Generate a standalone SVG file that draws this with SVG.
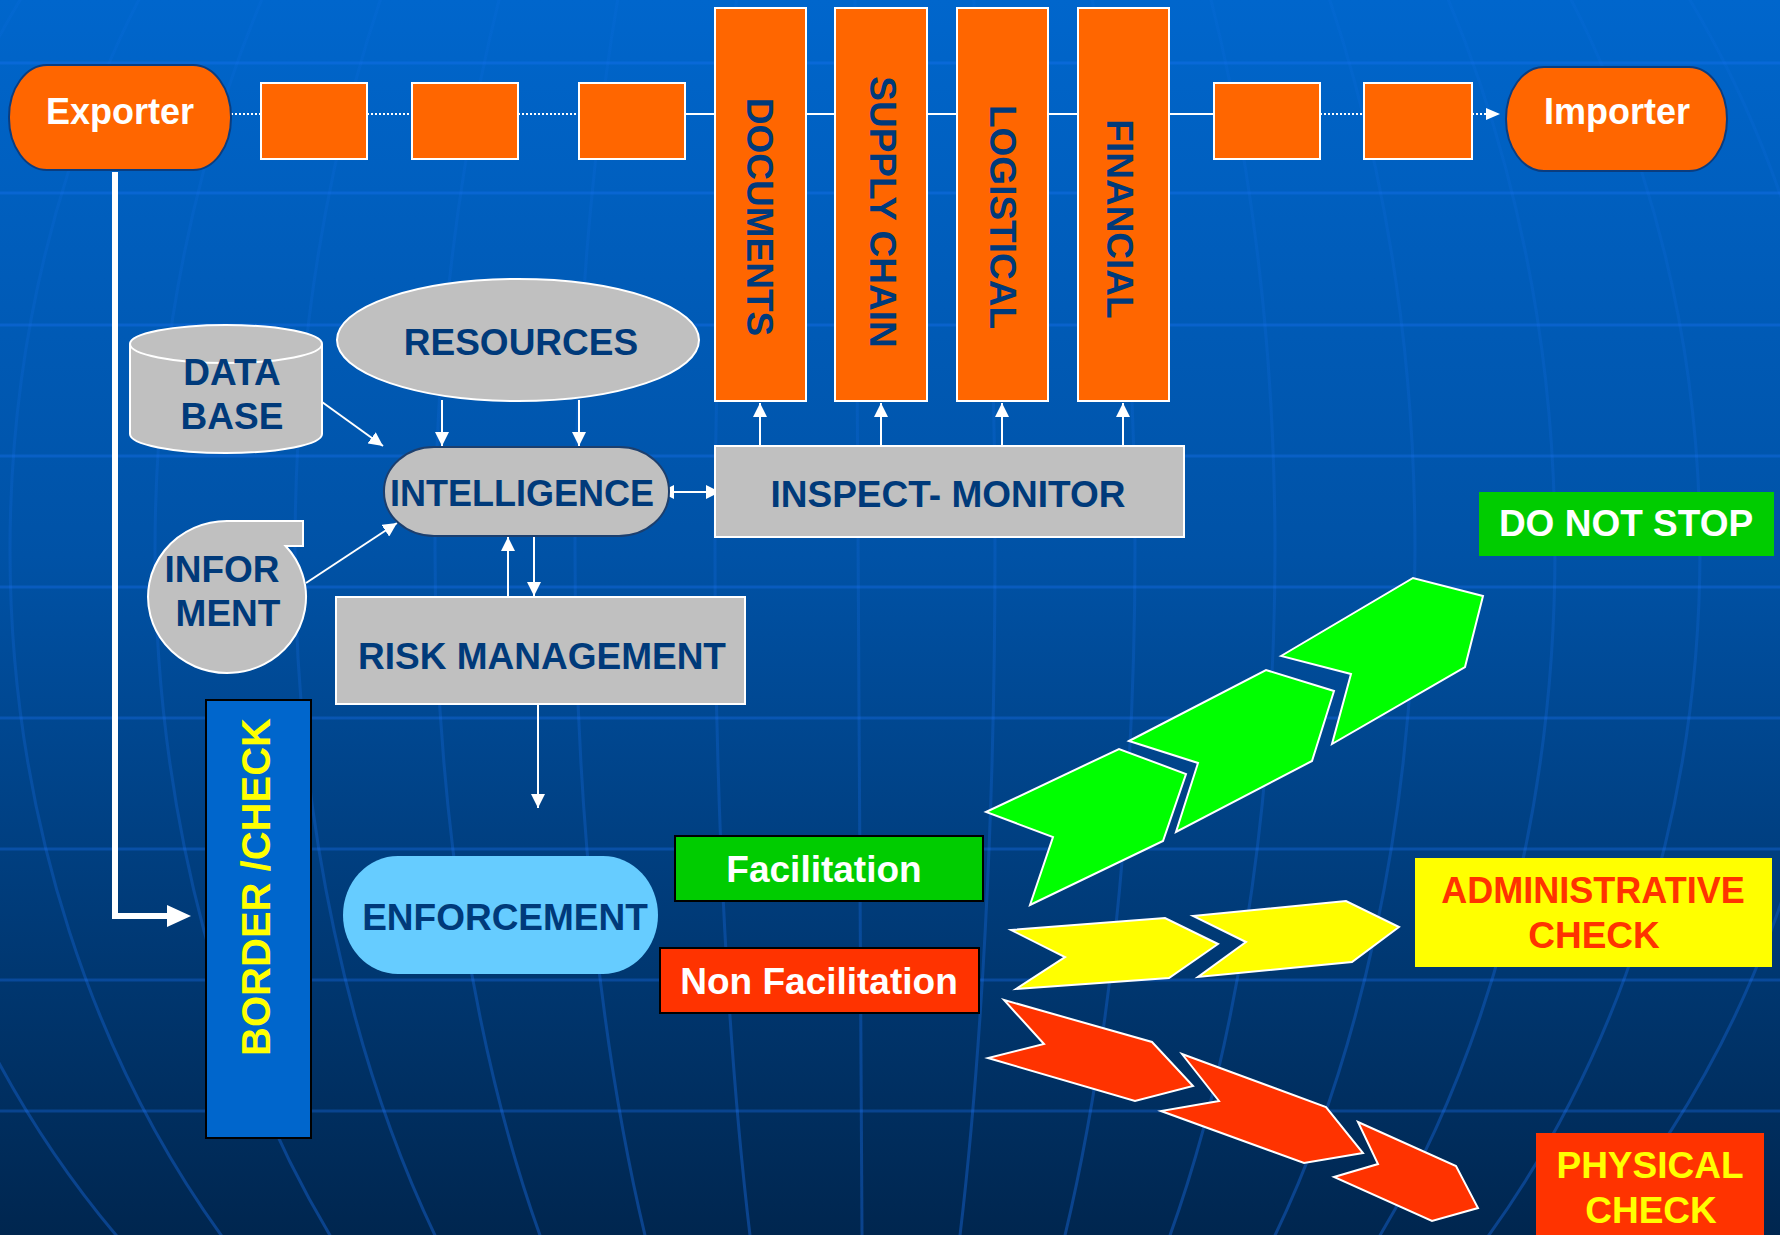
<svg xmlns="http://www.w3.org/2000/svg" width="1780" height="1235" viewBox="0 0 1780 1235">
  <defs>
    <linearGradient id="bg" x1="0" y1="0" x2="0" y2="1">
      <stop offset="0" stop-color="#0066cc"/>
      <stop offset="0.45" stop-color="#0052a6"/>
      <stop offset="1" stop-color="#00264f"/>
    </linearGradient>
    <linearGradient id="mer" gradientUnits="userSpaceOnUse" x1="0" y1="0" x2="0" y2="1235">
      <stop offset="0" stop-color="#1e78ff" stop-opacity="0.08"/>
      <stop offset="0.5" stop-color="#1e78ff" stop-opacity="0.18"/>
      <stop offset="1" stop-color="#1e78ff" stop-opacity="0.35"/>
    </linearGradient>
    <marker id="ah" viewBox="0 0 14 14" refX="14" refY="7" markerWidth="14" markerHeight="14" markerUnits="userSpaceOnUse" orient="auto-start-reverse">
      <path d="M0,0 L14,7 L0,14 Z" fill="#ffffff"/>
    </marker>
    <marker id="ahs" viewBox="0 0 14 12" refX="14" refY="6" markerWidth="14" markerHeight="12" markerUnits="userSpaceOnUse" orient="auto">
      <path d="M0,0 L14,6 L0,12 Z" fill="#ffffff"/>
    </marker>
    <style>
      text { font-family: "Liberation Sans", Arial, sans-serif; font-weight: bold; font-size: 37px; text-anchor: middle; }
      .dk { fill: #003a7a; }
      .wt { fill: #ffffff; }
      .orange { fill: #ff6600; stroke: #ffffff; stroke-width: 2; }
      .pill { fill: #ff6600; stroke: #0a3d80; stroke-width: 2; }
      .gray { fill: #c0c0c0; stroke: #ffffff; stroke-width: 2; }
      .grid { fill: none; stroke: #1e78ff; stroke-opacity: 0.3; stroke-width: 3; }
      .mgrid { fill: none; stroke: url(#mer); stroke-width: 3; }
      .conn { stroke: #ffffff; stroke-width: 2; fill: none; }
      .dot { stroke: #ffffff; stroke-width: 2; stroke-dasharray: 2 2; fill: none; }
      .chev { stroke: #ffffff; stroke-width: 2; stroke-linejoin: miter; }
    </style>
  </defs>

  <!-- background -->
  <rect x="0" y="0" width="1780" height="1235" fill="url(#bg)"/>
  <g id="grid">
    <line class="grid" x1="0" y1="63" x2="1780" y2="63"/>
    <line class="grid" x1="0" y1="193" x2="1780" y2="193"/>
    <line class="grid" x1="0" y1="325" x2="1780" y2="325"/>
    <line class="grid" x1="0" y1="456" x2="1780" y2="456"/>
    <line class="grid" x1="0" y1="587" x2="1780" y2="587"/>
    <line class="grid" x1="0" y1="718" x2="1780" y2="718"/>
    <line class="grid" x1="0" y1="849" x2="1780" y2="849"/>
    <line class="grid" x1="0" y1="980" x2="1780" y2="980"/>
    <line class="grid" x1="0" y1="1111" x2="1780" y2="1111"/>
    <line class="mgrid" x1="855" y1="0" x2="862" y2="1235"/>
    <ellipse class="mgrid" cx="855" cy="550" rx="140" ry="1036"/>
    <ellipse class="mgrid" cx="855" cy="550" rx="280" ry="1036"/>
    <ellipse class="mgrid" cx="855" cy="550" rx="420" ry="1036"/>
    <ellipse class="mgrid" cx="855" cy="550" rx="560" ry="1036"/>
    <ellipse class="mgrid" cx="855" cy="550" rx="700" ry="1036"/>
    <ellipse class="mgrid" cx="855" cy="550" rx="845" ry="1036"/>
    <ellipse class="mgrid" cx="855" cy="550" rx="985" ry="1036"/>
  </g>

  <!-- connectors -->
  <g id="connectors">
    <line class="dot" x1="231" y1="114" x2="261" y2="114"/>
    <line class="dot" x1="367" y1="114" x2="412" y2="114"/>
    <line class="dot" x1="518" y1="114" x2="579" y2="114"/>
    <line class="conn" x1="685" y1="114" x2="715" y2="114"/>
    <line class="conn" x1="806" y1="114" x2="835" y2="114"/>
    <line class="conn" x1="927" y1="114" x2="957" y2="114"/>
    <line class="conn" x1="1048" y1="114" x2="1078" y2="114"/>
    <line class="conn" x1="1169" y1="114" x2="1214" y2="114"/>
    <line class="dot" x1="1320" y1="114" x2="1364" y2="114"/>
    <line class="dot" x1="1472" y1="114" x2="1500" y2="114" marker-end="url(#ahs)"/>
    <!-- exporter to border -->
    <polyline points="115,172 115,916 168,916" fill="none" stroke="#ffffff" stroke-width="6"/>
    <polygon points="167,905 191,916 167,927" fill="#ffffff"/>
    <!-- into intelligence -->
    <line class="conn" x1="442" y1="400" x2="442" y2="446" marker-end="url(#ah)"/>
    <line class="conn" x1="579" y1="400" x2="579" y2="446" marker-end="url(#ah)"/>
    <line class="conn" x1="322" y1="402" x2="383" y2="446" marker-end="url(#ah)"/>
    <line class="conn" x1="306" y1="583" x2="397" y2="523" marker-end="url(#ah)"/>
    <line class="conn" x1="660" y1="492" x2="720" y2="492" marker-start="url(#ah)" marker-end="url(#ah)"/>
    <line class="conn" x1="508" y1="597" x2="508" y2="537" marker-end="url(#ah)"/>
    <line class="conn" x1="534" y1="537" x2="534" y2="596" marker-end="url(#ah)"/>
    <line class="conn" x1="538" y1="704" x2="538" y2="808" marker-end="url(#ah)"/>
    <!-- inspect to columns -->
    <line class="conn" x1="760" y1="446" x2="760" y2="403" marker-end="url(#ah)"/>
    <line class="conn" x1="881" y1="446" x2="881" y2="403" marker-end="url(#ah)"/>
    <line class="conn" x1="1002" y1="446" x2="1002" y2="403" marker-end="url(#ah)"/>
    <line class="conn" x1="1123" y1="446" x2="1123" y2="403" marker-end="url(#ah)"/>
  </g>

  <!-- top chain -->
  <g id="exporter">
    <rect class="pill" x="9" y="65" width="222" height="105" rx="38" ry="52"/>
    <text class="wt" x="120" y="124" style="font-size:36px">Exporter</text>
  </g>
  <g id="step1"><rect class="orange" x="261" y="83" width="106" height="76"/></g>
  <g id="step2"><rect class="orange" x="412" y="83" width="106" height="76"/></g>
  <g id="step3"><rect class="orange" x="579" y="83" width="106" height="76"/></g>
  <g id="documents">
    <rect class="orange" x="715" y="8" width="91" height="393"/>
    <text class="dk" transform="translate(747,217) rotate(90)">DOCUMENTS</text>
  </g>
  <g id="supply-chain">
    <rect class="orange" x="835" y="8" width="92" height="393"/>
    <text class="dk" transform="translate(870,212) rotate(90)">SUPPLY CHAIN</text>
  </g>
  <g id="logistical">
    <rect class="orange" x="957" y="8" width="91" height="393"/>
    <text class="dk" transform="translate(990,217) rotate(90)">LOGISTICAL</text>
  </g>
  <g id="financial">
    <rect class="orange" x="1078" y="8" width="91" height="393"/>
    <text class="dk" transform="translate(1107,219) rotate(90)">FINANCIAL</text>
  </g>
  <g id="step4"><rect class="orange" x="1214" y="83" width="106" height="76"/></g>
  <g id="step5"><rect class="orange" x="1364" y="83" width="108" height="76"/></g>
  <g id="importer">
    <rect class="pill" x="1506" y="67" width="221" height="104" rx="38" ry="52"/>
    <text class="wt" x="1617" y="124" style="font-size:36px">Importer</text>
  </g>

  <!-- middle -->
  <g id="resources">
    <ellipse class="gray" cx="518" cy="340" rx="181" ry="61"/>
    <text class="dk" x="521" y="355">RESOURCES</text>
  </g>
  <g id="database">
    <path class="gray" d="M130,344 A96,19 0 0 1 322,344 L322,434 A96,19 0 0 1 130,434 Z"/>
    <path d="M130,344 A96,19 0 0 0 322,344" fill="none" stroke="#ffffff" stroke-width="2"/>
    <text class="dk" x="232" y="385">DATA</text>
    <text class="dk" x="232" y="429">BASE</text>
  </g>
  <g id="informent">
    <path class="gray" d="M227,521 L303,521 L303,546 L285.6,546 A79,76 0 1 1 227,521 Z"/>
    <text class="dk" x="222" y="582">INFOR</text>
    <text class="dk" x="228" y="626">MENT</text>
  </g>
  <g id="intelligence">
    <rect x="384" y="447" width="285" height="89" rx="50" ry="44" fill="#c0c0c0" stroke="#1c3f6e" stroke-width="2"/>
    <text class="dk" x="522" y="506" style="font-size:36px">INTELLIGENCE</text>
  </g>
  <g id="inspect-monitor">
    <rect class="gray" x="715" y="446" width="469" height="91"/>
    <text class="dk" x="948" y="507">INSPECT- MONITOR</text>
  </g>
  <g id="risk-management">
    <rect class="gray" x="336" y="597" width="409" height="107"/>
    <text class="dk" x="542" y="669">RISK MANAGEMENT</text>
  </g>

  <!-- lower -->
  <g id="border-check">
    <rect x="206" y="700" width="105" height="438" fill="#0066cc" stroke="#000000" stroke-width="2"/>
    <text transform="translate(270,887) rotate(-90)" fill="#ffff00" style="font-size:40px">BORDER /CHECK</text>
  </g>
  <g id="enforcement">
    <rect x="343" y="856" width="315" height="118" rx="55" ry="59" fill="#66ccff"/>
    <text class="dk" x="505" y="930">ENFORCEMENT</text>
  </g>
  <g id="facilitation">
    <rect x="675" y="836" width="308" height="65" fill="#00cc00" stroke="#000000" stroke-width="2"/>
    <text class="wt" x="824" y="882">Facilitation</text>
  </g>
  <g id="non-facilitation">
    <rect x="660" y="948" width="319" height="65" fill="#ff3300" stroke="#000000" stroke-width="2"/>
    <text class="wt" x="819" y="994">Non Facilitation</text>
  </g>

  <g id="green-arrows">
    <polygon class="chev" fill="#00ff00" points="986,812 1119,749 1186,774 1163,841 1030,905 1053,837"/>
    <polygon class="chev" fill="#00ff00" points="1129,741 1266,670 1334,691 1312,761 1176,832 1198,763"/>
    <polygon class="chev" fill="#00ff00" points="1281,656 1413,578 1483,596 1465,667 1332,744 1351,674"/>
  </g>
  <g id="yellow-arrows">
    <polygon class="chev" fill="#ffff00" points="1011,930 1165,918 1218,944 1169,978 1016,989 1065,957"/>
    <polygon class="chev" fill="#ffff00" points="1193,916 1346,901 1399,927 1352,962 1198,977 1246,942"/>
  </g>
  <g id="red-arrows">
    <polygon class="chev" fill="#ff3300" points="1004,1000 1152,1042 1193,1086 1135,1101 988,1058 1044,1044"/>
    <polygon class="chev" fill="#ff3300" points="1182,1054 1326,1107 1363,1153 1304,1163 1161,1111 1219,1101"/>
    <polygon class="chev" fill="#ff3300" points="1358,1122 1456,1166 1478,1208 1432,1221 1334,1177 1378,1164"/>
  </g>

  <g id="do-not-stop">
    <rect x="1479" y="492" width="295" height="64" fill="#00cc00"/>
    <text class="wt" x="1626" y="536">DO NOT STOP</text>
  </g>
  <g id="administrative-check">
    <rect x="1415" y="858" width="357" height="109" fill="#ffff00"/>
    <text x="1593" y="903" fill="#ff3300" style="font-size:36px">ADMINISTRATIVE</text>
    <text x="1594" y="948" fill="#ff3300">CHECK</text>
  </g>
  <g id="physical-check">
    <rect x="1536" y="1133" width="228" height="110" fill="#ff3300"/>
    <text x="1650" y="1178" fill="#ffff00">PHYSICAL</text>
    <text x="1651" y="1223" fill="#ffff00">CHECK</text>
  </g>
</svg>
